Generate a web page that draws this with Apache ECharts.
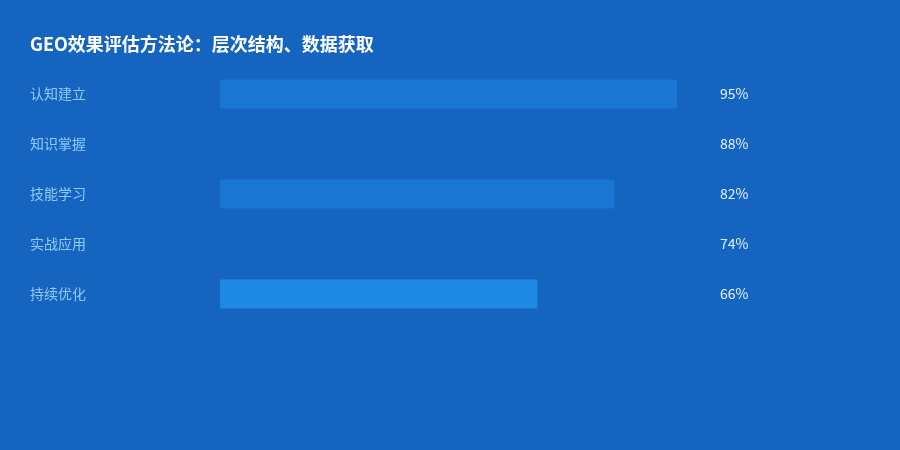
<!DOCTYPE html>
<html><head><meta charset="utf-8">
<script src="https://cdn.jsdelivr.net/npm/echarts@6/dist/echarts.min.js"></script>
<style>html,body{margin:0;padding:0;background:#1565C0}#c{width:900px;height:450px}</style>
</head><body><div id="c"></div>
<script>
const categories = ['认知建立','知识掌握','技能学习','实战应用','持续优化'];
const values = [95, 88, 82, 74, 66];
const barColors = ['#1976D2','#1565C0','#1976D2','#1565C0','#1E88E5'];
const titleText = 'GEO效果评估方法论：层次结构、数据获取';

const chart = echarts.init(document.getElementById('c'));
chart.setOption({
  backgroundColor: '#1565C0',
  animation: false,
  title: {
    text: titleText, left: 25, top: 30,
    textStyle: {color: '#FFFFFF', fontSize: 18, fontWeight: 'bold', fontFamily: 'Noto Sans CJK SC'}
  },
  grid: {left: 220, right: 199, top: 69, height: 250},
  xAxis: {type: 'value', min: 0, max: 100, show: false},
  yAxis: [{
    type: 'category', data: categories, inverse: true,
    axisLine: {show: false}, axisTick: {show: false}, splitLine: {show: false},
    axisLabel: {margin: 190, align: 'left', color: '#90CAF9', fontSize: 14, fontFamily: 'Noto Sans CJK SC'}
  }, {
    type: 'category', data: values.map(v => v + '%'), inverse: true, position: 'right',
    axisLine: {show: false}, axisTick: {show: false}, splitLine: {show: false},
    axisLabel: {margin: 19, align: 'left', color: '#E3F2FD', fontSize: 14, fontFamily: 'Noto Sans CJK SC'}
  }],
  series: [{
    type: 'bar', data: values.map((v, i) => ({value: v, itemStyle: {color: barColors[i]}})),
    barWidth: 29
  }]
});
</script></body></html>
